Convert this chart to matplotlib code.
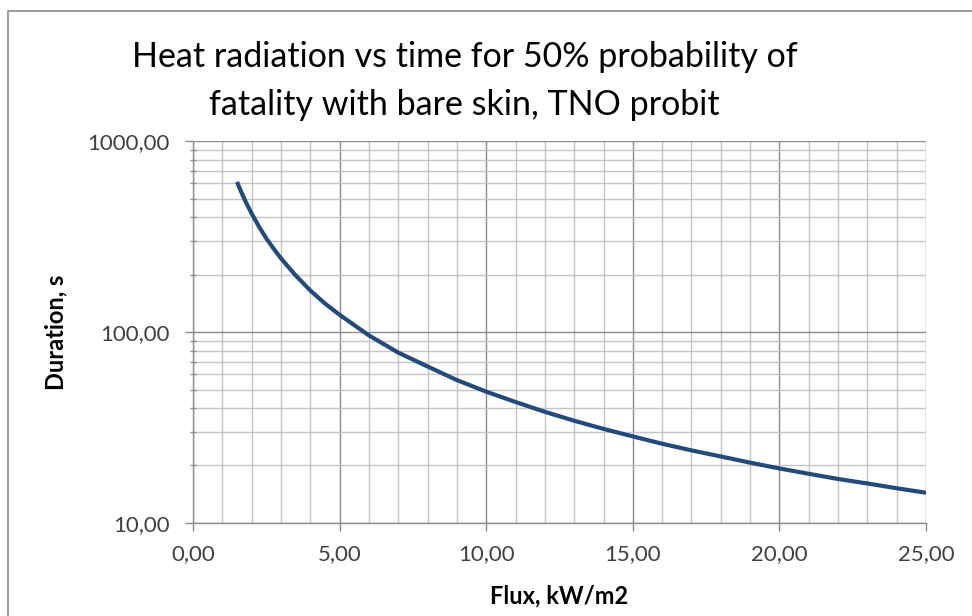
import matplotlib
matplotlib.use("Agg")
import matplotlib.pyplot as plt
from matplotlib.ticker import FixedLocator, FuncFormatter, NullFormatter, MultipleLocator

# values
flux = [1.5, 1.6, 1.75, 1.8, 2.0, 2.25, 2.5, 2.75, 3.0, 3.5, 4.0, 4.5, 5.0, 6.0, 7.0, 8.0,
        9.0, 10.0, 11.0, 12.0, 13.0, 14.0, 15.0, 16.0, 17.0, 18.0, 19.0, 20.0, 21.0,
        22.0, 23.0, 24.0, 25.0]
duration = [611, 561, 498, 479, 417, 356, 309, 273, 243, 198, 165, 141, 123, 96, 78, 66,
            56, 48.7, 43.0, 38.2, 34.3, 31.1, 28.4, 26.0, 24.0, 22.3, 20.7, 19.3, 18.1,
            17.0, 16.1, 15.2, 14.4]

title = "Heat radiation vs time for 50% probability of\nfatality with bare skin, TNO probit"
xlabel = "Flux, kW/m2"
ylabel = "Duration, s"

plt.rcParams["font.family"] = ["Lato", "DejaVu Sans"]

fig = plt.figure(figsize=(9.72, 6.16), dpi=100)
ax = fig.add_axes([0.1986, 0.151, 0.7541, 0.620])

ax.plot(flux, duration, color="#234a7c", linewidth=3.0, solid_capstyle="butt", zorder=3)

ax.set_yscale("log")
ax.set_xlim(0, 25)
ax.set_ylim(10, 1000)

ax.xaxis.set_major_locator(MultipleLocator(5))
ax.xaxis.set_minor_locator(MultipleLocator(1))
ax.yaxis.set_major_locator(FixedLocator([10, 100, 1000]))
ax.yaxis.set_minor_locator(FixedLocator([v * d for d in (10, 100) for v in range(2, 10)]))
ax.yaxis.set_minor_formatter(NullFormatter())

fmt = FuncFormatter(lambda v, p: f"{v:.2f}".replace(".", ","))
ax.xaxis.set_major_formatter(fmt)
ax.yaxis.set_major_formatter(fmt)

ax.grid(which="major", color="#8c8c8c", linewidth=1.0)
ax.grid(which="minor", color="#c4c4c4", linewidth=1.0)
ax.set_axisbelow(True)

for side in ("top", "right"):
    ax.spines[side].set_visible(False)
for side in ("left", "bottom"):
    ax.spines[side].set_color("#8c8c8c")
    ax.spines[side].set_linewidth(1.0)

ax.tick_params(axis="both", which="major", length=6, width=1.0, color="#8c8c8c",
               labelsize=16, labelcolor="#404040")
ax.tick_params(axis="x", which="major", pad=9)
ax.tick_params(axis="y", which="major", pad=11)
ax.tick_params(axis="x", which="minor", length=0)
ax.tick_params(axis="y", which="minor", length=4, width=1.0, color="#8c8c8c", direction="inout")

ax.set_xlabel(xlabel, fontsize=17, fontweight="bold", labelpad=15)
ax.set_ylabel(ylabel, fontsize=17, fontweight="bold", labelpad=14)

fig.text(0.478, 0.869, title, ha="center", va="center", fontsize=24.5,
         linespacing=1.62, color="#000000")

# outer chart border
fig.patches.append(plt.Rectangle((8 / 972, -0.01), 1.0, 1 - 11 / 616 + 0.01,
                                 transform=fig.transFigure, fill=False,
                                 edgecolor="#8c8c8c", linewidth=1.2))

fig.savefig("out.png", dpi=100)
